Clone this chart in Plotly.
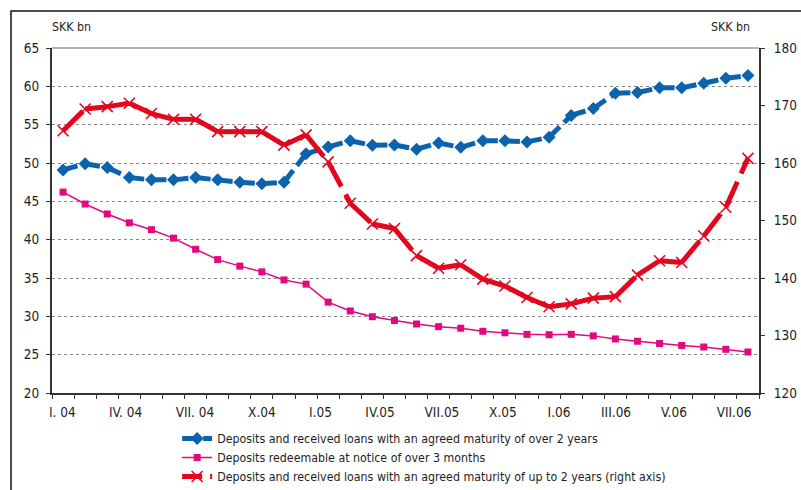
import plotly.graph_objects as go

# Monthly observations, January 2004 .. August 2006
months = list(range(32))

# Deposits and received loans, agreed maturity over 2 years (left axis, SKK bn)
over_2y = [49.1, 49.9, 49.4, 48.1, 47.8, 47.8, 48.1, 47.8, 47.5, 47.3, 47.5, 51.2,
           52.1, 52.9, 52.3, 52.35, 51.8, 52.6, 52.05, 52.9, 52.9, 52.75, 53.35, 56.2,
           57.1, 59.1, 59.2, 59.8, 59.8, 60.4, 61.05, 61.4]

# Deposits redeemable at notice of over 3 months (left axis, SKK bn)
notice_3m = [46.2, 44.65, 43.35, 42.2, 41.3, 40.2, 38.75, 37.4, 36.55, 35.8, 34.75, 34.2,
             31.85, 30.7, 29.95, 29.45, 29.0, 28.65, 28.45, 28.05, 27.85, 27.65, 27.6, 27.65,
             27.45, 27.05, 26.75, 26.45, 26.2, 26.0, 25.7, 25.35]

# Deposits and received loans, agreed maturity up to 2 years (right axis, SKK bn)
upto_2y = [165.6, 169.4, 169.8, 170.4, 168.6, 167.6, 167.6, 165.45, 165.45, 165.45, 163.1, 164.9,
           160.2, 153.0, 149.4, 148.6, 143.9, 141.7, 142.3, 139.8, 138.6, 136.6, 135.0, 135.5,
           136.5, 136.75, 140.5, 143.0, 142.7, 147.3, 152.3, 160.8]

tick_labels = ["I. 04", "IV. 04", "VII. 04", "X.04", "I.05", "IV.05", "VII.05",
               "X.05", "I.06", "III.06", "V.06", "VII.06"]
# where each period label sits along the month axis
tick_positions = [-0.03, 2.83, 5.97, 9.0, 11.65, 14.35, 17.15, 19.91, 22.45, 25.03, 27.65, 30.37]

names = ["Deposits and received loans with an agreed maturity of over 2 years",
         "Deposits redeemable at notice of over 3 months",
         "Deposits and received loans with an agreed maturity of up to 2 years (right axis)"]

FONT = "DejaVu Sans Condensed, Liberation Sans Narrow, Arial Narrow, sans-serif"
BLUE = "#0B63AE"
PINK = "#E2087F"
RED = "#E3061F"

fig = go.Figure()


def dashed_segments(xs, ys, color, width, dash, yaxis):
    # the dash pattern restarts at every data point, as in the original spreadsheet style
    for i in range(len(xs) - 1):
        fig.add_trace(go.Scatter(
            x=xs[i:i + 2], y=ys[i:i + 2], mode="lines", yaxis=yaxis,
            line=dict(color=color, width=width, dash=dash),
            showlegend=False, hoverinfo="skip"))


# series 1: blue dashed with diamonds
dashed_segments(months, over_2y, BLUE, 5, "15px,6px", "y")
fig.add_trace(go.Scatter(x=months, y=over_2y, mode="markers", showlegend=False,
                         marker=dict(symbol="diamond", size=10, color=BLUE)))

# series 2: thin magenta with squares
fig.add_trace(go.Scatter(x=months, y=notice_3m, mode="lines+markers", showlegend=False,
                         line=dict(color=PINK, width=1.5),
                         marker=dict(symbol="square", size=7, color=PINK)))

# series 3: thick red with crosses, right axis
dashed_segments(months, upto_2y, RED, 5, "28px,9px", "y2")
fig.add_trace(go.Scatter(x=months, y=upto_2y, mode="markers", yaxis="y2", showlegend=False,
                         marker=dict(symbol="x-thin", size=11, color=RED,
                                     line=dict(color=RED, width=1.6))))

# legend entries
fig.add_trace(go.Scatter(x=[None], y=[None], mode="lines+markers", name=names[0],
                         line=dict(color=BLUE, width=5, dash="15px,6px"),
                         marker=dict(symbol="diamond", size=10, color=BLUE)))
fig.add_trace(go.Scatter(x=[None], y=[None], mode="lines+markers", name=names[1],
                         line=dict(color=PINK, width=1.5),
                         marker=dict(symbol="square", size=7, color=PINK)))
fig.add_trace(go.Scatter(x=[None], y=[None], mode="lines+markers", name=names[2], yaxis="y2",
                         line=dict(color=RED, width=5, dash="20px,8px"),
                         marker=dict(symbol="x-thin", size=11, color=RED,
                                     line=dict(color=RED, width=1.6))))

AX = "#333333"
fig.update_layout(
    width=801, height=490,
    margin=dict(l=52, r=42, t=48, b=97, autoexpand=False),
    paper_bgcolor="white", plot_bgcolor="white",
    font=dict(family=FONT, size=13, color="#1e1e1e"),
    showlegend=True,
    legend=dict(x=0.177, xanchor="left", y=-31 / 345, yanchor="top",
                font=dict(size=12.3), bgcolor="rgba(0,0,0,0)", traceorder="normal",
                tracegroupgap=0),
    xaxis=dict(range=[-0.5, 31.5], tickmode="array", tickvals=tick_positions,
               ticktext=tick_labels, ticks="", showline=True, linecolor=AX, linewidth=2,
               showgrid=False, zeroline=False, tickfont=dict(size=13.5),
               ticklabelstandoff=6,
               minor=dict(tickmode="linear", tick0=-0.5, dtick=1, ticks="outside",
                          ticklen=4, tickcolor=AX, tickwidth=1, showgrid=False)),
    yaxis=dict(range=[20, 65], dtick=5, ticks="outside", ticklen=4, tickcolor=AX,
               showline=True, linecolor=AX, linewidth=2, showgrid=True,
               gridcolor="#8a8a8a", griddash="dot", gridwidth=1, zeroline=False,
               tickfont=dict(size=13.5), ticklabelstandoff=4),
    yaxis2=dict(overlaying="y", side="right", range=[120, 180], dtick=10,
                ticks="outside", ticklen=4, tickcolor=AX, showline=True, linecolor=AX,
                linewidth=2, showgrid=False, zeroline=False, tickfont=dict(size=13.5),
                ticklabelstandoff=6),
    shapes=[
        dict(type="line", xref="paper", yref="paper", x0=0, x1=1, y0=1, y1=1,
             line=dict(color="#9a9a9a", width=1.5), layer="below"),
        dict(type="rect", xref="paper", yref="paper", x0=-0.058, x1=1.2, y0=-0.5, y1=1.107,
             line=dict(color="#111111", width=1.5)),
    ],
    annotations=[
        dict(text="SKK bn", xref="paper", yref="paper", x=0.028, y=1.061,
             xanchor="center", yanchor="middle", showarrow=False, font=dict(size=12.3)),
        dict(text="SKK bn", xref="paper", yref="paper", x=0.960, y=1.061,
             xanchor="center", yanchor="middle", showarrow=False, font=dict(size=12.3)),
    ],
)

fig.write_html("out.html")
